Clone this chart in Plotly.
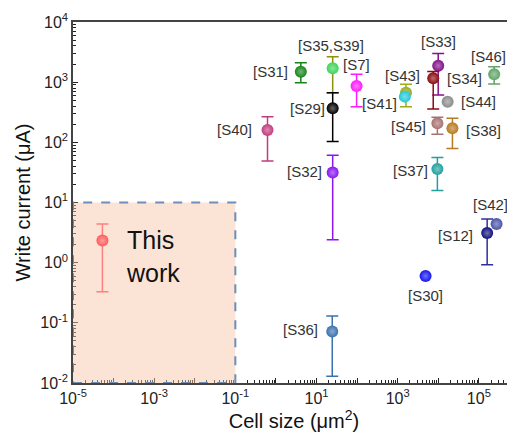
import math
import plotly.graph_objects as go

# ---------------- data ----------------
refs = ["[S31]", "[S35,S39]", "[S29]", "[S7]", "[S40]", "[S32]", "[S43]", "[S41]",
        "[S33]", "[S34]", "[S44]", "[S45]", "[S38]", "[S37]", "[S46]", "[S42]",
        "[S12]", "[S30]", "[S36]"]
cell_size = [4.1, 25, 25, 97, 0.62, 25, 1600, 1500,
             9950, 7500, 17000, 9500, 22300, 9500, 238000, 273000,
             160000, 4860, 24.4]
write_current = [1495, 1700, 368, 865, 161, 31.4, 670, 575,
                 1880, 1160, 474, 207, 171, 36, 1350, 4.4,
                 3.1, 0.6, 0.072]
current_hi = [2110, 2650, 670, 1350, 267, 61, 922, None,
              3000, 1500, None, 261, 251, 56, 1810, None,
              5.3, None, 0.13]
current_lo = [977, 670, 103, 392, 49, 2.4, 392, None,
              612, 359, None, 136, 79, 15.8, 933, None,
              0.92, None, 0.013]

this_work_size = 5.3e-5
this_work_current = 2.33
this_work_hi = 4.4
this_work_lo = 0.33

region_x = [1e-5, 1e-1]
region_y = [1e-2, 10]

x_tick_vals = [10.0 ** e for e in range(-5, 6)]
x_tick_text = ["10<sup>%d</sup>" % e if e % 2 else "" for e in range(-5, 6)]
y_tick_vals = [10.0 ** e for e in range(-2, 5)]
y_tick_text = ["10<sup>%d</sup>" % e for e in range(-2, 5)]

# ---------------- styles ----------------
colors = ["#17861a", "#3fd45a", "#000000", "#ff19ff", "#c23c80", "#8a16f0", "#9aab1e", "#22c8d8",
          "#86108a", "#8c0a10", "#8c8c8c", "#a87272", "#b87a22", "#22a0a0", "#62a468", "#4a56a8",
          "#12127e", "#1414f0", "#3a72b0"]
err_colors = ["#17861a", "#8f8f10", "#000000", "#ff19ff", "#c23c80", "#8a16f0", "#9aab1e", "#22c8d8",
              "#86108a", "#8c0a10", "#8c8c8c", "#a87272", "#b87a22", "#22a0a0", "#62a468", "#4a56a8",
              "#30309a", "#1414f0", "#3a72b0"]
# label offsets (pixels) and anchors
label_pos = [(-11, 0, "right"), (-2, 23, "center"), (-6, 0, "right"), (0, 21, "center"),
             (-14, 0, "right"), (-9, 1, "right"), (-3, 17, "center"), (-6, -7, "right"),
             (0, 24, "center"), (12, 0, "left"), (11, 0, "left"), (-9, -3, "right"),
             (12, -2, "left"), (-7, -1, "right"), (14, 18, "right"), (13, 19, "right"),
             (-12, -2, "right"), (0, -19, "center"), (-12, 2, "right")]


def lighten(hexc, f=0.4):
    hexc = hexc.lstrip("#")
    r, g, b = int(hexc[0:2], 16), int(hexc[2:4], 16), int(hexc[4:6], 16)
    r = int(r + (255 - r) * f)
    g = int(g + (255 - g) * f)
    b = int(b + (255 - b) * f)
    return "rgb(%d,%d,%d)" % (r, g, b)


fig = go.Figure()

# shaded region of this work
fig.add_trace(go.Scatter(
    x=[region_x[0], region_x[1], region_x[1], region_x[0], region_x[0]],
    y=[region_y[0], region_y[0], region_y[1], region_y[1], region_y[0]],
    mode="lines", fill="toself", fillcolor="rgba(246,196,170,0.48)",
    line=dict(color="#6b8fb8", width=2, dash="dash"),
    hoverinfo="skip", showlegend=False))

# literature points
for i, name in enumerate(refs):
    err = None
    if current_hi[i] is not None:
        err = dict(type="data", symmetric=False,
                   array=[current_hi[i] - write_current[i]],
                   arrayminus=[write_current[i] - current_lo[i]],
                   color=err_colors[i], thickness=1.5, width=6)
    fig.add_trace(go.Scatter(
        x=[cell_size[i]], y=[write_current[i]], mode="markers",
        marker=dict(size=12, color=colors[i],
                    gradient=dict(type="radial", color=lighten(colors[i])),
                    line=dict(width=0)),
        error_y=err, showlegend=False, name=name))
    dx, dy, anc = label_pos[i]
    fig.add_annotation(x=math.log10(cell_size[i]), y=math.log10(write_current[i]),
                       text=name, showarrow=False, xanchor=anc, yanchor="middle",
                       xshift=dx, yshift=dy,
                       font=dict(size=15, color="#333333", family="Liberation Sans, Arial"))

# this work
fig.add_trace(go.Scatter(
    x=[this_work_size], y=[this_work_current], mode="markers",
    marker=dict(size=12, color="#ff5a5a",
                gradient=dict(type="radial", color="#ffa0a0"), line=dict(width=0)),
    error_y=dict(type="data", symmetric=False,
                 array=[this_work_hi - this_work_current],
                 arrayminus=[this_work_current - this_work_lo],
                 color="#ff8080", thickness=1.5, width=6),
    showlegend=False, name="This work"))
fig.add_annotation(x=math.log10(this_work_size), y=math.log10(this_work_current),
                   text="This<br>work", showarrow=False, xanchor="left", yanchor="top",
                   align="left", xshift=22, yshift=17,
                   font=dict(size=25, color="#111111", family="Liberation Sans, Arial"))

axis_font = dict(size=16, color="#222222", family="Liberation Sans, Arial")
fig.update_layout(
    width=507, height=432,
    margin=dict(l=65, r=0, t=14, b=57),
    paper_bgcolor="white", plot_bgcolor="white",
    font=dict(family="Liberation Sans, Arial", color="#222222"),
    xaxis=dict(type="log", range=[-5, 5.89], tickmode="array",
               tickvals=x_tick_vals, ticktext=x_tick_text,
               ticks="inside", ticklen=5, tickwidth=1, tickcolor="#222222",
               minor=dict(ticks="inside", ticklen=3, dtick="D1", tickcolor="#222222", showgrid=False),
               showline=True, linecolor="#444444", linewidth=1.5, mirror=True,
               showgrid=False, zeroline=False, layer="below traces",
               tickfont=axis_font,
               title=dict(text="Cell size (\u03bcm<sup>2</sup>)", font=dict(size=20, color="#111111"),
                          standoff=6)),
    yaxis=dict(type="log", range=[-2, 4], tickmode="array",
               tickvals=y_tick_vals, ticktext=y_tick_text,
               ticks="inside", ticklen=5, tickwidth=1, tickcolor="#222222",
               minor=dict(ticks="inside", ticklen=3, dtick="D1", tickcolor="#222222", showgrid=False),
               showline=True, linecolor="#444444", linewidth=1.5,
               showgrid=False, zeroline=False, layer="below traces",
               tickfont=axis_font,
               title=dict(text="Write current (\u03bcA)", font=dict(size=20, color="#111111"),
                          standoff=4)),
)

fig.write_html("out.html")
